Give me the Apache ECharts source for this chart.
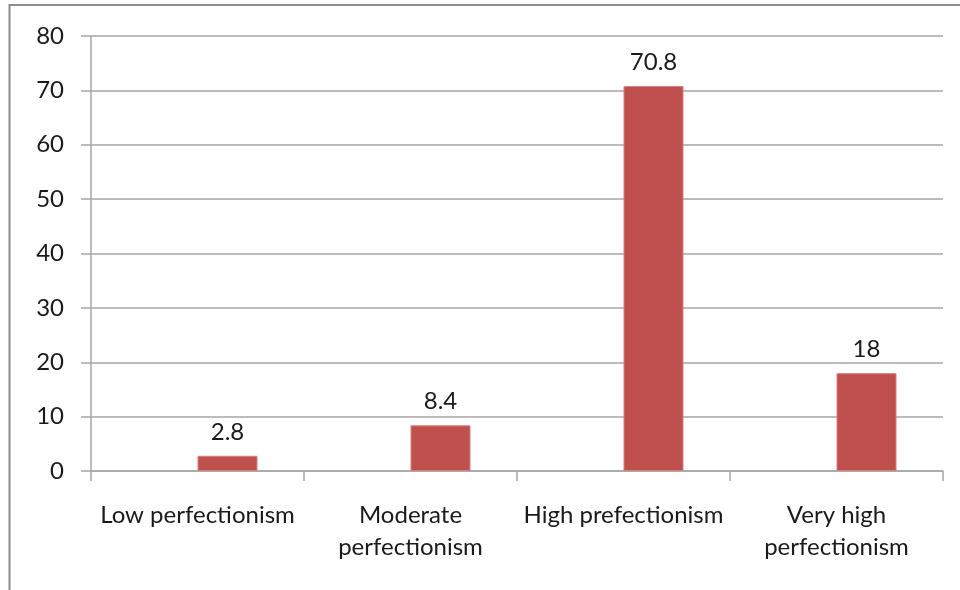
<!DOCTYPE html>
<html>
<head>
<meta charset="utf-8">
<script src="https://cdn.jsdelivr.net/npm/echarts@6/dist/echarts.min.js"></script>
<style>
  html, body { margin: 0; padding: 0; background: #fff; }
  #chart { width: 960px; height: 590px; }
</style>
</head>
<body>
<div id="chart"></div>
<script>
// Perfectionism levels and their percentages
const categories = ['Low perfectionism', 'Moderate\nperfectionism', 'High prefectionism', 'Very high\nperfectionism'];
const values = [2.8, 8.4, 70.8, 18];
const yTicks = { min: 0, max: 80, interval: 10 };

const FONT = 'Lato';
const FONT_SIZE = 24;
const GRID_COLOR = '#a6a6a6';
const TEXT_COLOR = '#1a1a1a';

const chart = echarts.init(document.getElementById('chart'), null, { renderer: 'canvas' });

chart.setOption({
  backgroundColor: '#ffffff',
  animation: false,
  textStyle: { fontFamily: FONT },
  graphic: [{
    type: 'rect',
    shape: { x: 9.5, y: 5, width: 1000, height: 700 },
    style: { fill: 'none', stroke: '#8c8c8c', lineWidth: 2 },
    silent: true
  }],
  grid: { left: 91, right: 17, top: 36, bottom: 119 },
  xAxis: {
    type: 'category',
    data: categories,
    boundaryGap: true,
    axisLine: { show: true, lineStyle: { color: GRID_COLOR, width: 1.5 } },
    axisTick: { show: true, length: 10, alignWithLabel: false, lineStyle: { color: GRID_COLOR, width: 1.5 } },
    axisLabel: {
      margin: 28,
      color: TEXT_COLOR,
      fontFamily: FONT,
      fontSize: FONT_SIZE,
      lineHeight: 32,
      interval: 0
    }
  },
  yAxis: {
    type: 'value',
    min: yTicks.min,
    max: yTicks.max,
    interval: yTicks.interval,
    axisLine: { show: true, lineStyle: { color: GRID_COLOR, width: 1.5 } },
    axisTick: { show: true, length: 10, lineStyle: { color: GRID_COLOR, width: 1.5 } },
    axisLabel: { margin: 27, color: TEXT_COLOR, fontFamily: FONT, fontSize: FONT_SIZE },
    splitLine: { show: true, lineStyle: { color: GRID_COLOR, width: 1.5 } }
  },
  series: [
    {
      // empty slot that keeps each bar in the right half of its category
      type: 'bar',
      name: 'spacer',
      data: categories.map(() => '-'),
      barWidth: 60,
      barGap: '0%',
      silent: true
    },
    {
      type: 'bar',
      name: 'Percentage',
      data: values,
      barWidth: 60,
      barGap: '0%',
      itemStyle: { color: '#c0504d', borderColor: '#d5807e', borderWidth: 1 },
      label: {
        show: true,
        position: 'top',
        distance: 12,
        color: TEXT_COLOR,
        fontFamily: FONT,
        fontSize: FONT_SIZE
      }
    }
  ]
});
</script>
</body>
</html>
